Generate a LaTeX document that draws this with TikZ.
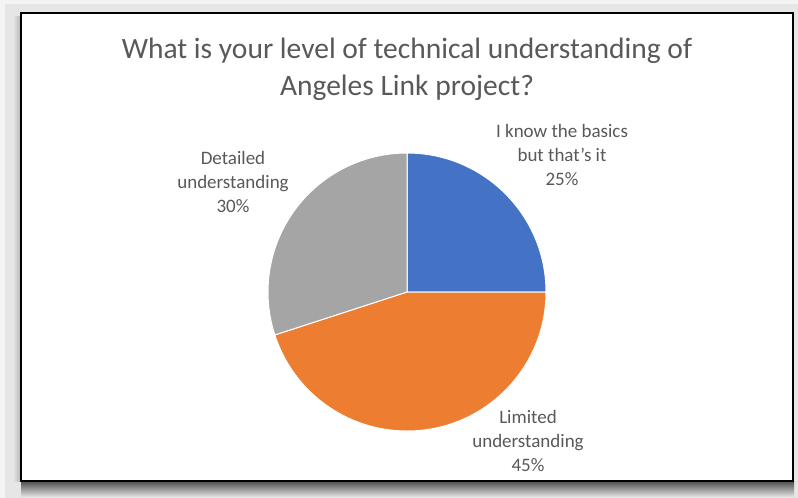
\documentclass[tikz,border=0pt]{standalone}
\usepackage{fontspec}
\setmainfont{Carlito}
\definecolor{sliceblue}{HTML}{4472C4}
\definecolor{sliceorange}{HTML}{ED7D31}
\definecolor{slicegray}{HTML}{A5A5A5}
\definecolor{txtgray}{HTML}{595959}
\definecolor{bggray}{HTML}{E6E6E6}
\definecolor{bglight}{HTML}{F4F4F4}
\tikzset{
  slice/.style={draw=white, line width=1pt, line join=round},
  pielabel/.style={align=center, text=txtgray, font=\fontsize{19}{24}\selectfont, inner sep=0pt},
  titletext/.style={align=center, text=txtgray, font=\fontsize{29.5}{37}\selectfont, inner sep=0pt}
}
\begin{document}
\begin{tikzpicture}[x=1pt,y=-1pt]
\useasboundingbox (0,0) rectangle (798,498);
\fill[bglight] (0,0) rectangle (798,498);
\fill[bggray] (5,4) rectangle (798,498);
% shadows
\shade[top color=black!70, bottom color=bggray] (21,481) rectangle (794,497);
\shade[left color=bggray, right color=black!30] (13,16) rectangle (21,481);
% frame
\draw[line width=2.5pt, fill=white] (21,13) rectangle (793,481);
% title
\node[titletext] (title) at (407,69) {What is your level of technical understanding of\\Angeles Link project?};
% pie
\coordinate (c) at (407,292);
\filldraw[slice, fill=sliceblue] (c) -- ++(-90:139) arc[start angle=-90, end angle=0, radius=139] -- cycle;
\filldraw[slice, fill=sliceorange] (c) -- ++(0:139) arc[start angle=0, end angle=162, radius=139] -- cycle;
\filldraw[slice, fill=slicegray] (c) -- ++(162:139) arc[start angle=162, end angle=270, radius=139] -- cycle;
% labels
\node[pielabel] (lblue) at (562,155) {I know the basics\\but that’s it\\25\%};
\node[pielabel] (lgray) at (233,182) {Detailed\\understanding\\30\%};
\node[pielabel] (lorange) at (528,441) {Limited\\understanding\\45\%};
\end{tikzpicture}
\end{document}
